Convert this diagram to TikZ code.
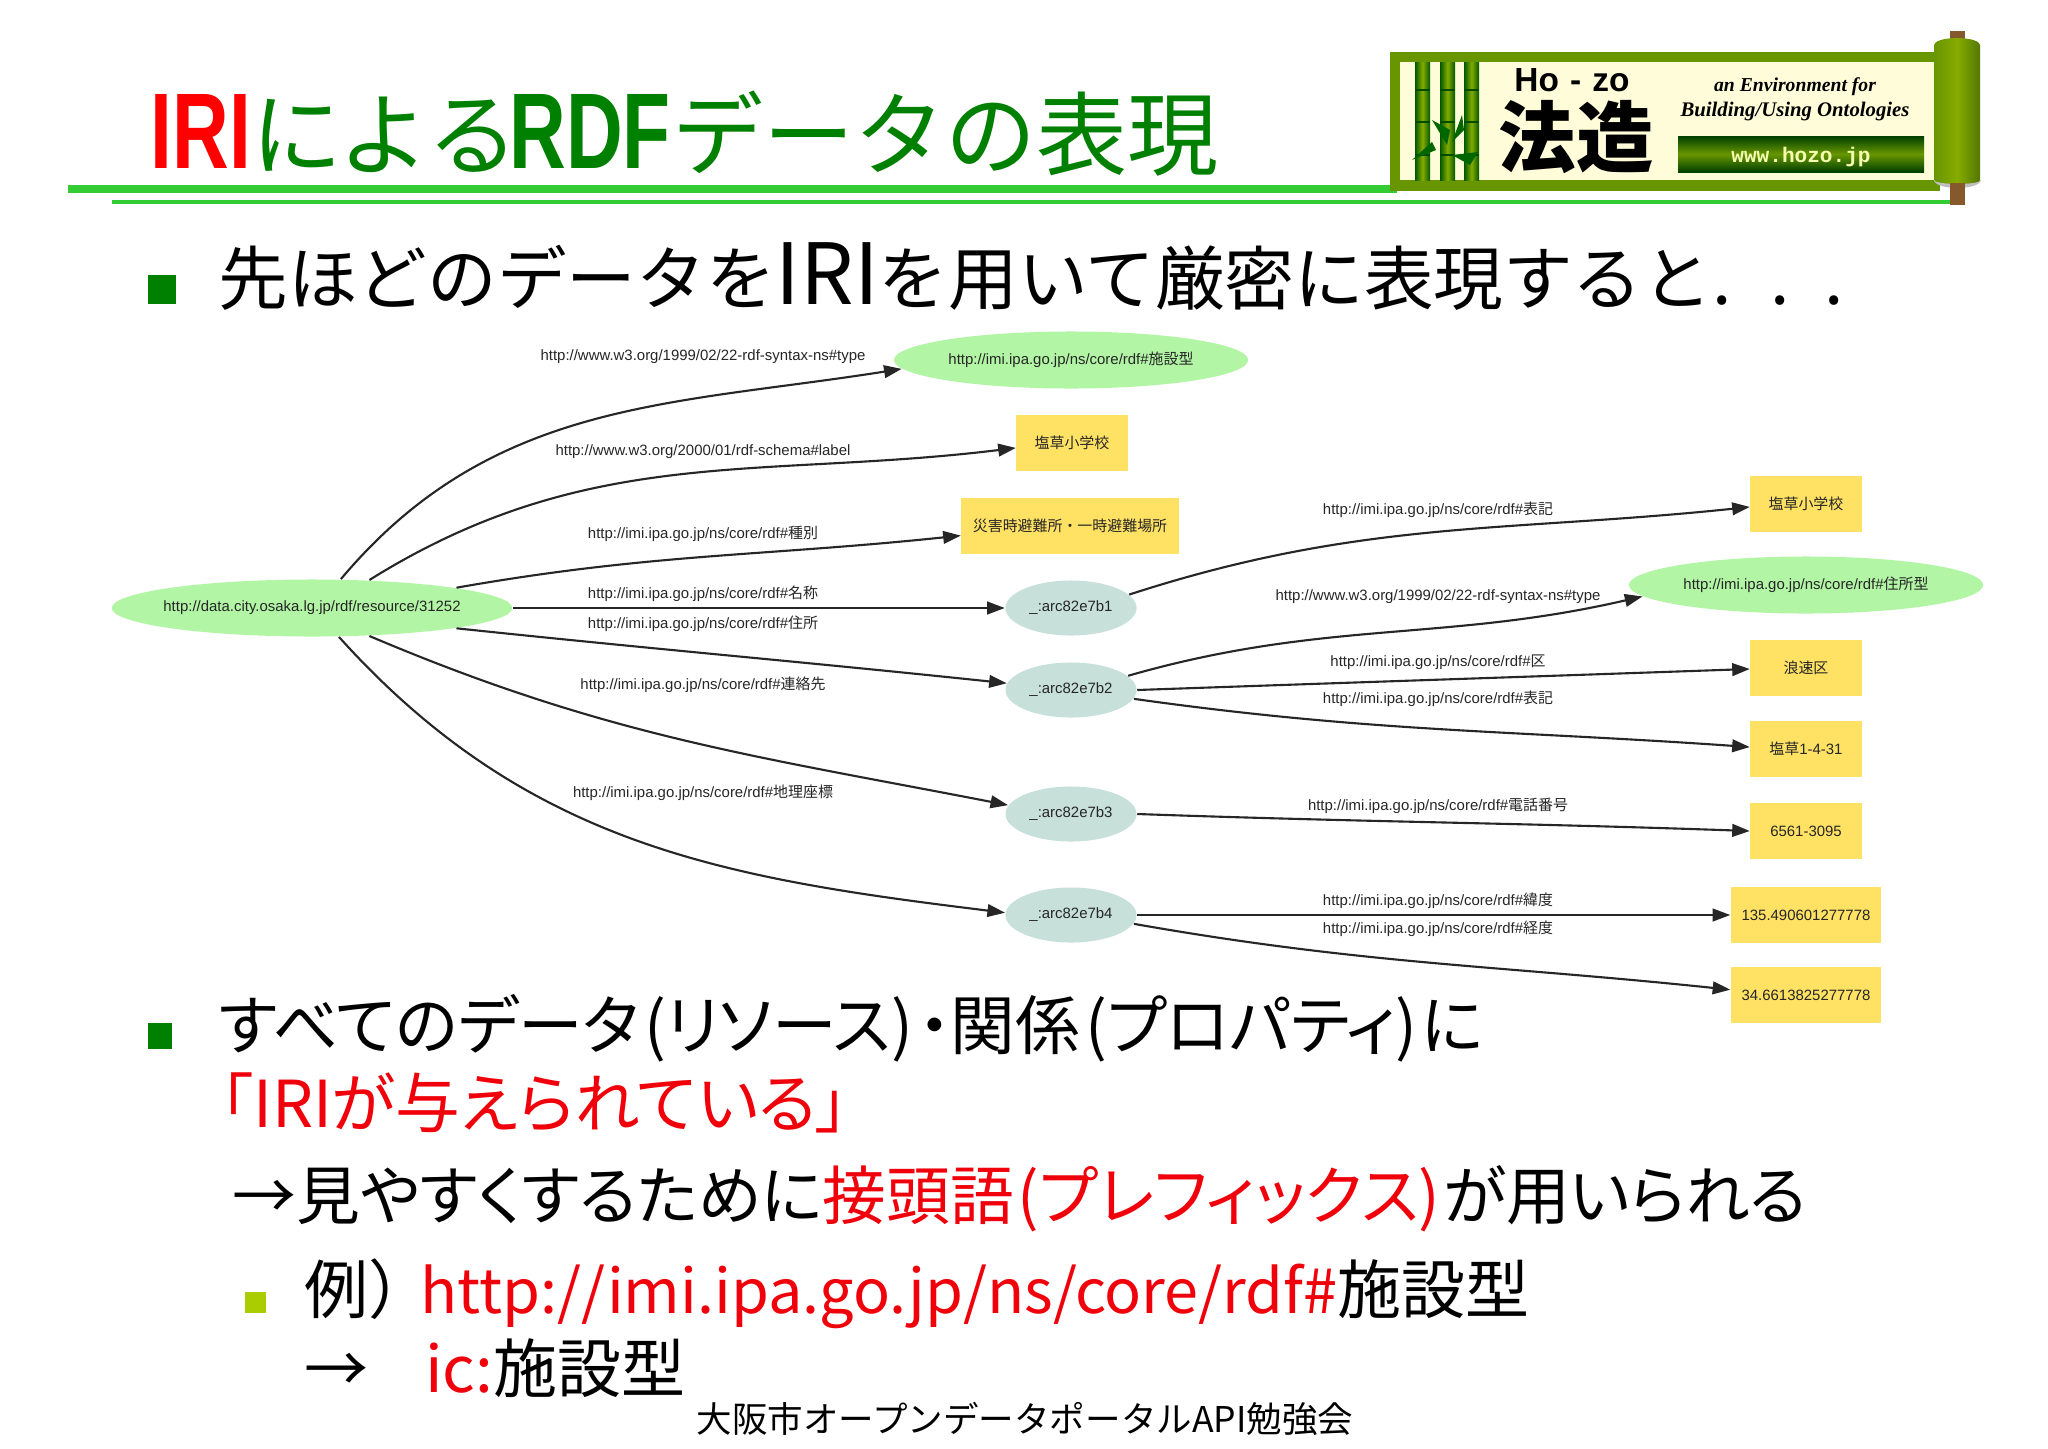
\documentclass[tikz,border=0pt]{standalone}
\usepackage{fontspec}
\setmainfont{Liberation Sans}
\newfontfamily\cjk{Noto Sans CJK JP}
\newfontfamily\pcjk[RawFeature=+palt]{Noto Sans CJK JP}
\newfontfamily\narrowbf[FakeStretch=0.73]{Liberation Sans Bold}
\newfontfamily\monofnt{Liberation Mono Bold}
\newfontfamily\scriptfnt{Liberation Serif Bold Italic}
\usetikzlibrary{
	arrows.meta,
	positioning,
	shapes.geometric,
}
\definecolor{titlegreen}{RGB}{0,128,0}
\definecolor{rulegreen}{RGB}{51,204,51}
\definecolor{logogreen}{RGB}{104,150,0}
\definecolor{classfill}{RGB}{178,245,165}
\definecolor{arcfill}{RGB}{200,224,218}
\definecolor{litfill}{RGB}{255,225,100}
\definecolor{slidered}{RGB}{240,0,10}
\definecolor{subbullet}{RGB}{170,205,0}
\newcommand{\ttlb}[1]{{\narrowbf\fontsize{30.6}{32}\selectfont #1}}
\tikzset{
	class node/.style={ellipse,fill=classfill,inner sep=0mm,minimum width=3.54cm,minimum height=.57cm,font=\fontsize{4.25}{5}\selectfont,text=black!85},
	arc node/.style={ellipse,fill=arcfill,inner sep=0mm,minimum width=1.31cm,minimum height=.55cm,font=\fontsize{4.25}{5}\selectfont,text=black!85},
	lit node/.style={rectangle,fill=litfill,inner sep=0mm,minimum width=1.11cm,minimum height=.56cm,font=\fontsize{4.25}{5}\selectfont,text=black!85},
	prop label/.style={inner sep=0mm,font=\fontsize{4.25}{5}\selectfont,text=black!85},
	edge/.style={-{Triangle[length=5pt,width=3.6pt]},line width=.6pt,black!85},
	body text/.style={anchor=base west,inner sep=0mm,font=\pcjk\fontsize{18.4}{22}\selectfont},
	bamboo/.style={left color=green!35!black,right color=green!35!black,middle color=logogreen!80!yellow},
}

\begin{document}
\begin{tikzpicture}[x=0.01cm,y=0.01cm]
\useasboundingbox (0,0) rectangle (2048,-1448);
\fill[white] (0,0) rectangle (2048,-1448);

% title
\fill[rulegreen] (68,-185) rectangle (1397,-193);
\fill[rulegreen] (112,-200) rectangle (1960,-204);
\node[anchor=base west,inner sep=0mm,text=titlegreen,font=\cjk\fontsize{25.9}{30}\selectfont] (title) at (150,-168)
	{\textcolor{red}{\ttlb{IRI}}に\kern-1pt よる\kern-2.5pt\ttlb{RDF}\kern.5pt データの表現};

% logo
\fill[logogreen] (1390,-52) rectangle (1940,-191);
\fill[yellow!15] (1400,-62) rectangle (1940,-180);
\foreach \x in {1415,1440,1464}{
	\shade[bamboo] (\x,-62) rectangle +(15,-118);
	\foreach \y in {-90,-122,-155}{\draw[green!30!black,line width=.3pt] (\x,\y) -- +(15,0);}
}
\fill[green!40!black] (1432,-120) -- (1450,-130) -- (1447,-145) -- cycle;
\fill[green!40!black] (1412,-160) -- (1432,-142) -- (1436,-150) -- cycle;
\fill[green!40!black] (1452,-155) -- (1478,-152) -- (1470,-165) -- cycle;
\fill[green!40!black] (1452,-142) -- (1462,-115) -- (1464,-130) -- cycle;
\node[inner sep=0mm,font=\bfseries\fontsize{9.5}{11}\selectfont] (hozo) at (1572,-80) {Ho\,\,-\,\,zo};
\node[inner sep=0mm,font=\cjk\bfseries\fontsize{22}{24}\selectfont] (hozokanji) at (1576,-137) {法造};
\node[inner sep=0mm,font=\scriptfnt\fontsize{5.6}{7}\selectfont] (logoa) at (1795,-87) {an Environment for};
\node[inner sep=0mm,font=\scriptfnt\fontsize{5.9}{7}\selectfont] (logob) at (1795,-112) {Building/Using Ontologies};
\shade[top color=green!25!black,bottom color=green!25!black,middle color=logogreen] (1678,-136) rectangle (1924,-172);
\node[inner sep=0mm,text=green!15!yellow!30,font=\monofnt\fontsize{6}{8}\selectfont] (logoc) at (1801,-157) {www.hozo.jp};
\fill[brown!70!black] (1950,-31) rectangle (1965,-40);
\shade[left color=logogreen,right color=logogreen!80!black,middle color=logogreen!80!yellow] (1934,-45) arc[start angle=180,end angle=0,x radius=23,y radius=7] -- (1980,-180) arc[start angle=0,end angle=-180,x radius=23,y radius=7] -- cycle;
\fill[black!25] (1934,-180) arc[start angle=180,end angle=360,x radius=23.5,y radius=8] arc[start angle=0,end angle=-180,x radius=23.5,y radius=4];
\fill[brown!70!black] (1950,-183) rectangle (1965,-205);

% first bullet
\fill[titlegreen] (148,-275) rectangle (176,-304);
\node[body text,font=\cjk\fontsize{19.8}{24}\selectfont] (line1) at (218,-304) {先ほどのデータを{\fontsize{24}{24}\selectfont IRI}を用いて厳密に表現すると.\kern11pt.\kern10pt.};

% graph
\node[class node,inner xsep=-.07cm] (root) at (312,-608) {http://data.city.osaka.lg.jp/rdf/resource/31252};
\node[class node] (facility) at (1071,-360) {http://imi.ipa.go.jp/ns/core/rdf\#{\cjk 施設型}};
\node[lit node] (name) at (1072,-443) {\cjk 塩草小学校};
\node[lit node,minimum width=2.17cm] (kind) at (1070,-526) {\cjk 災害時避難所・一時避難場所};
\node[arc node] (arc1) at (1071,-608) {\_:arc82e7b1};
\node[arc node] (arc2) at (1071,-690) {\_:arc82e7b2};
\node[arc node] (arc3) at (1071,-814) {\_:arc82e7b3};
\node[arc node] (arc4) at (1071,-915) {\_:arc82e7b4};
\node[lit node] (notation) at (1806,-504) {\cjk 塩草小学校};
\node[class node] (address) at (1806,-585) {http://imi.ipa.go.jp/ns/core/rdf\#{\cjk 住所型}};
\node[lit node] (ward) at (1806,-668) {\cjk 浪速区};
\node[lit node] (street) at (1806,-749) {{\cjk 塩草}1-4-31};
\node[lit node] (phone) at (1806,-831) {6561-3095};
\node[lit node,minimum width=1.5cm] (lat) at (1806,-915) {135.490601277778};
\node[lit node,minimum width=1.5cm] (long) at (1806,-995) {34.6613825277778};

\foreach \u/\a/\v/\b/\o/\i in {
	root/45/facility/183/50/189,
	root/26/name/185/32/187,
	root/8/kind/185/10/186,
	root/0/arc1/180/0/180,
	root/-8/arc2/174/-6/174,
	root/-26/arc3/172/-23/169,
	root/-47/arc4/178/-48/173,
	arc1/13/notation/183/18/186,
	arc2/14/address/184/16/193,
	arc2/0/ward/181/2/182,
	arc2/-8/street/178/-8/176,
	arc3/0/phone/180/-2/178,
	arc4/0/lat/180/0/180,
	arc4/-8/long/176/-10/174%
}{
	\draw[edge] (\u.\a) to[out=\o,in=\i] (\v.\b);
}

\node[prop label] (p1) at (703,-357) {http://www.w3.org/1999/02/22-rdf-syntax-ns\#type};
\node[prop label] (p2) at (703,-452) {http://www.w3.org/2000/01/rdf-schema\#label};
\node[prop label] (p3) at (703,-534) {http://imi.ipa.go.jp/ns/core/rdf\#{\cjk 種別}};
\node[prop label] (p4) at (703,-594) {http://imi.ipa.go.jp/ns/core/rdf\#{\cjk 名称}};
\node[prop label] (p5) at (703,-624) {http://imi.ipa.go.jp/ns/core/rdf\#{\cjk 住所}};
\node[prop label] (p6) at (703,-685) {http://imi.ipa.go.jp/ns/core/rdf\#{\cjk 連絡先}};
\node[prop label] (p7) at (703,-793) {http://imi.ipa.go.jp/ns/core/rdf\#{\cjk 地理座標}};
\node[prop label] (p8) at (1438,-510) {http://imi.ipa.go.jp/ns/core/rdf\#{\cjk 表記}};
\node[prop label] (p9) at (1438,-597) {http://www.w3.org/1999/02/22-rdf-syntax-ns\#type};
\node[prop label] (p10) at (1438,-662) {http://imi.ipa.go.jp/ns/core/rdf\#{\cjk 区}};
\node[prop label] (p11) at (1438,-699) {http://imi.ipa.go.jp/ns/core/rdf\#{\cjk 表記}};
\node[prop label] (p12) at (1438,-806) {http://imi.ipa.go.jp/ns/core/rdf\#{\cjk 電話番号}};
\node[prop label] (p13) at (1438,-901) {http://imi.ipa.go.jp/ns/core/rdf\#{\cjk 緯度}};
\node[prop label] (p14) at (1438,-929) {http://imi.ipa.go.jp/ns/core/rdf\#{\cjk 経度}};

% lower text
\fill[titlegreen] (148,-1023) rectangle (172,-1049);
\node[body text] (line2) at (218,-1049) {すべてのデータ\kern1.5pt(リソース)\kern1.5pt・関係\kern1.5pt(プロパティ)\kern1pt に};
\node[body text,text=slidered] (line3) at (220,-1127) {「IRIが与えられている」};
\node[body text,font=\pcjk\fontsize{18.15}{22}\selectfont] (line4) at (232,-1219) {→見やすくするために\textcolor{slidered}{接頭語\kern1pt(プレフィックス)\kern1pt}が用いられる};
\fill[subbullet] (245,-1292) rectangle (266,-1313);
\node[body text,font=\cjk\fontsize{18.2}{22}\selectfont] (line5) at (304,-1313) {例）\kern-3.5pt\textcolor{slidered}{\fontsize{17.4}{22}\selectfont http://imi.ipa.go.jp/ns/core/rdf\#}施設型};
\node[body text,font=\cjk\fontsize{18.2}{22}\selectfont] (line6) at (304,-1392) {→ \kern12pt\textcolor{slidered}{ic:}施設型};
\node[inner sep=0mm,font=\cjk\fontsize{10.1}{12}\selectfont] (footer) at (1025,-1419) {大阪市オープンデータポータルAPI勉強会};
\end{tikzpicture}
\end{document}
